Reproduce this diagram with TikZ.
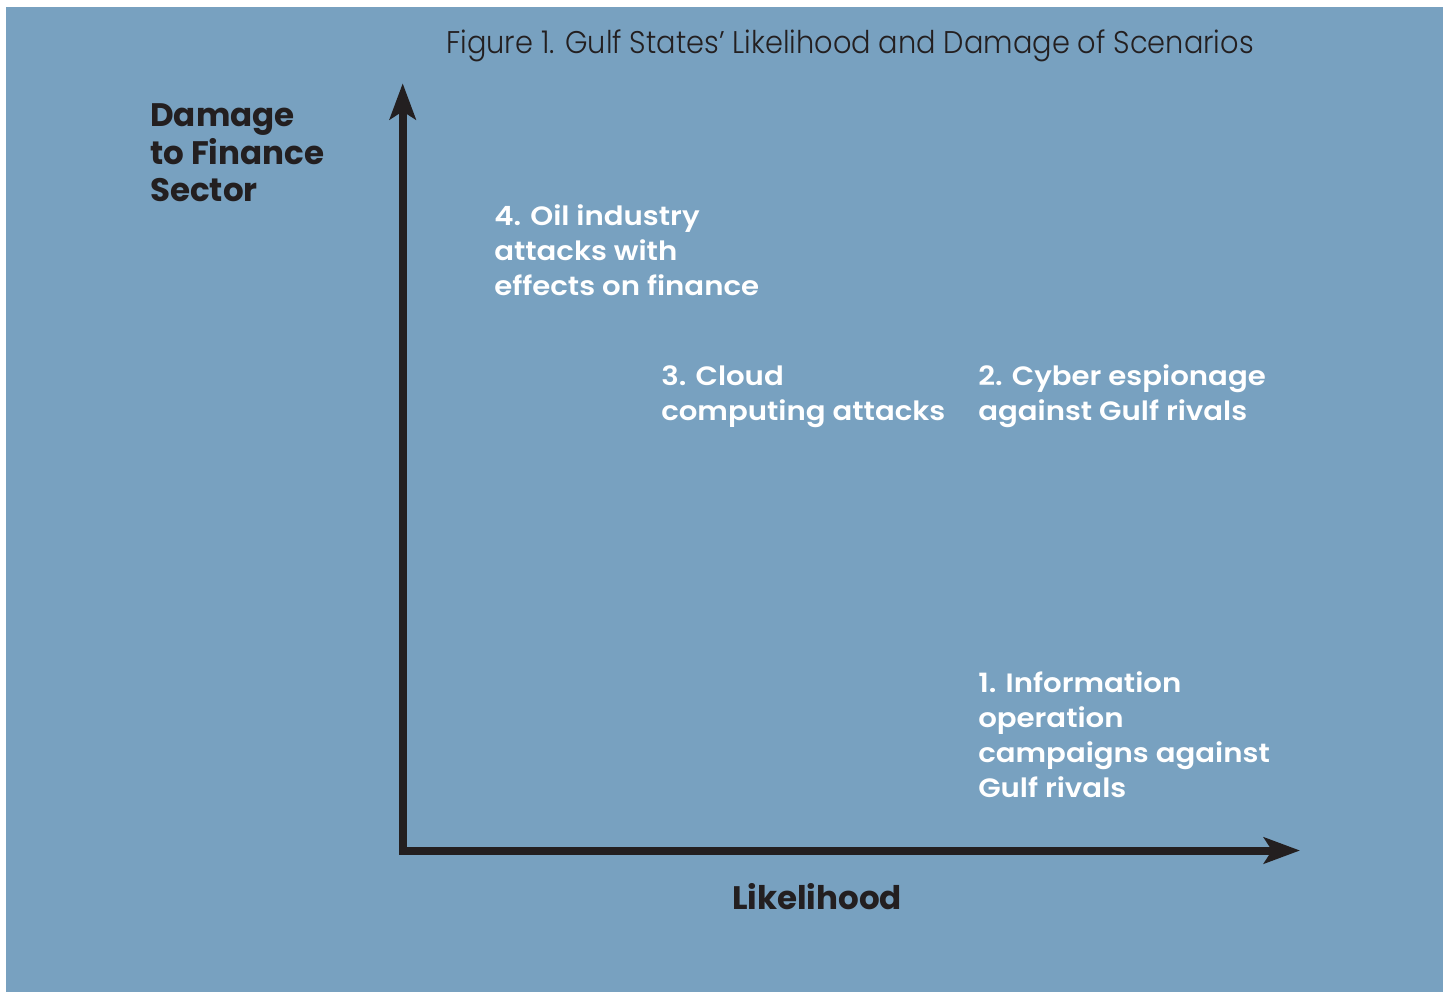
\documentclass[tikz,border=0pt]{standalone}
\usepackage{fontspec}
\setmainfont{Poppins}
\newfontfamily\semifont{Poppins SemiBold}[FakeStretch=1.1]
\newfontfamily\lightfont{Poppins Light}[FakeStretch=0.92]
\usetikzlibrary{arrows.meta}
\definecolor{panel}{RGB}{120,161,192}
\definecolor{ink}{RGB}{35,31,32}
\tikzset{
  axis/.style={ink, line width=6pt, line join=miter,
    arrows={Stealth[length=27pt, width=19.5pt, inset=6pt]-Stealth[length=27pt, width=19.5pt, inset=6pt]}},
  % multi-line nodes are anchored at the baseline of their last line
  scenario/.style={text=white, inner sep=0pt, align=left, anchor=base west,
    font={\semifont\fontsize{19.9}{26.25}\selectfont}},
  axislabel/.style={text=ink, inner sep=0pt, align=left,
    font={\bfseries\fontsize{24.4}{28.1}\selectfont}},
  heading/.style={text=ink, inner sep=0pt, anchor=base west,
    font={\lightfont\fontsize{23.5}{28}\selectfont}}
}
\begin{document}
\begin{tikzpicture}[x=0.75pt, y=-0.75pt]
  % page and blue panel
  \useasboundingbox (0,0) rectangle (1449,992);
  \fill[white] (0,0) rectangle (1449,992);
  \fill[panel] (6,7) rectangle (1443,992);

  % title
  \node[heading] (title) at (446,53.3) {Figure 1. Gulf States’ Likelihood and Damage of Scenarios};

  % axes
  \coordinate (ytip) at (402.7,83.3);
  \coordinate (origin) at (402.7,850.5);
  \coordinate (xtip) at (1300,850.5);
  \draw[axis] (ytip) -- (origin) -- (xtip);

  % axis labels
  \node[axislabel, anchor=base west] (ylabel) at (150,201.7) {Damage\\to Finance\\Sector};
  \node[axislabel, anchor=base] (xlabel) at (817,909.5) {Likelihood};

  % scenarios
  \node[scenario] (s4) at (494,295.5) {4. Oil industry\\attacks with\\effects on finance};
  \node[scenario] (s3) at (661,420.5) {3. Cloud\\computing attacks};
  \node[scenario] (s2) at (978,420.5) {2. Cyber espionage\\against Gulf rivals};
  \node[scenario] (s1) at (978,797.5) {1. Information\\operation\\campaigns against\\Gulf rivals};
\end{tikzpicture}
\end{document}
